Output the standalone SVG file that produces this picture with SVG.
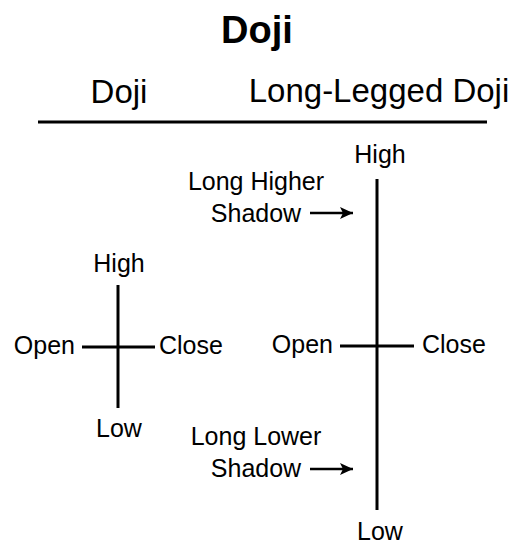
<svg xmlns="http://www.w3.org/2000/svg" width="515" height="544" viewBox="0 0 515 544">
<style>
text{font-family:"Liberation Sans",Arial,sans-serif;fill:#000}
.t{font-size:38px;font-weight:bold}
.h{font-size:33px}
.l{font-size:25px}
.s{stroke:#000;stroke-width:3;fill:none}
.a{stroke:#000;stroke-width:2.5;fill:none}
</style>
<defs>
<marker id="ah" markerUnits="userSpaceOnUse" markerWidth="14" markerHeight="14" refX="13" refY="7" orient="auto">
<path d="M0,1 L13,7 L0,13 L3,7 Z" fill="#000"/>
</marker>
</defs>
<rect width="515" height="544" fill="#fff"/>
<g id="title"><text class="t" x="257" y="43" text-anchor="middle">Doji</text></g>
<g id="header-doji"><text class="h" x="119" y="103" text-anchor="middle">Doji</text></g>
<g id="header-long"><text class="h" x="379" y="102" text-anchor="middle">Long-Legged Doji</text></g>
<g id="rule"><line class="s" x1="38" y1="122" x2="487" y2="122"/></g>
<g id="doji">
<line class="s" x1="118" y1="285" x2="118" y2="408"/>
<line class="s" x1="82" y1="347" x2="155" y2="347"/>
<text class="l" x="119" y="272" text-anchor="middle">High</text>
<text class="l" x="119" y="437" text-anchor="middle">Low</text>
<text class="l" x="75" y="354" text-anchor="end">Open</text>
<text class="l" x="159" y="354">Close</text>
</g>
<g id="long-legged-doji">
<line class="s" x1="377" y1="179" x2="377" y2="510"/>
<line class="s" x1="340" y1="346" x2="414" y2="346"/>
<text class="l" x="380" y="163" text-anchor="middle">High</text>
<text class="l" x="380" y="540" text-anchor="middle">Low</text>
<text class="l" x="333" y="353" text-anchor="end">Open</text>
<text class="l" x="422" y="353">Close</text>
</g>
<g id="higher-shadow">
<text class="l" x="256" y="190" text-anchor="middle">Long Higher</text>
<text class="l" x="256" y="222" text-anchor="middle">Shadow</text>
</g>
<g id="lower-shadow">
<text class="l" x="256" y="445" text-anchor="middle">Long Lower</text>
<text class="l" x="256" y="477" text-anchor="middle">Shadow</text>
</g>
<g id="connectors">
<line class="a" x1="310" y1="213" x2="353" y2="213" marker-end="url(#ah)"/>
<line class="a" x1="310" y1="469" x2="353" y2="469" marker-end="url(#ah)"/>
</g>
</svg>
